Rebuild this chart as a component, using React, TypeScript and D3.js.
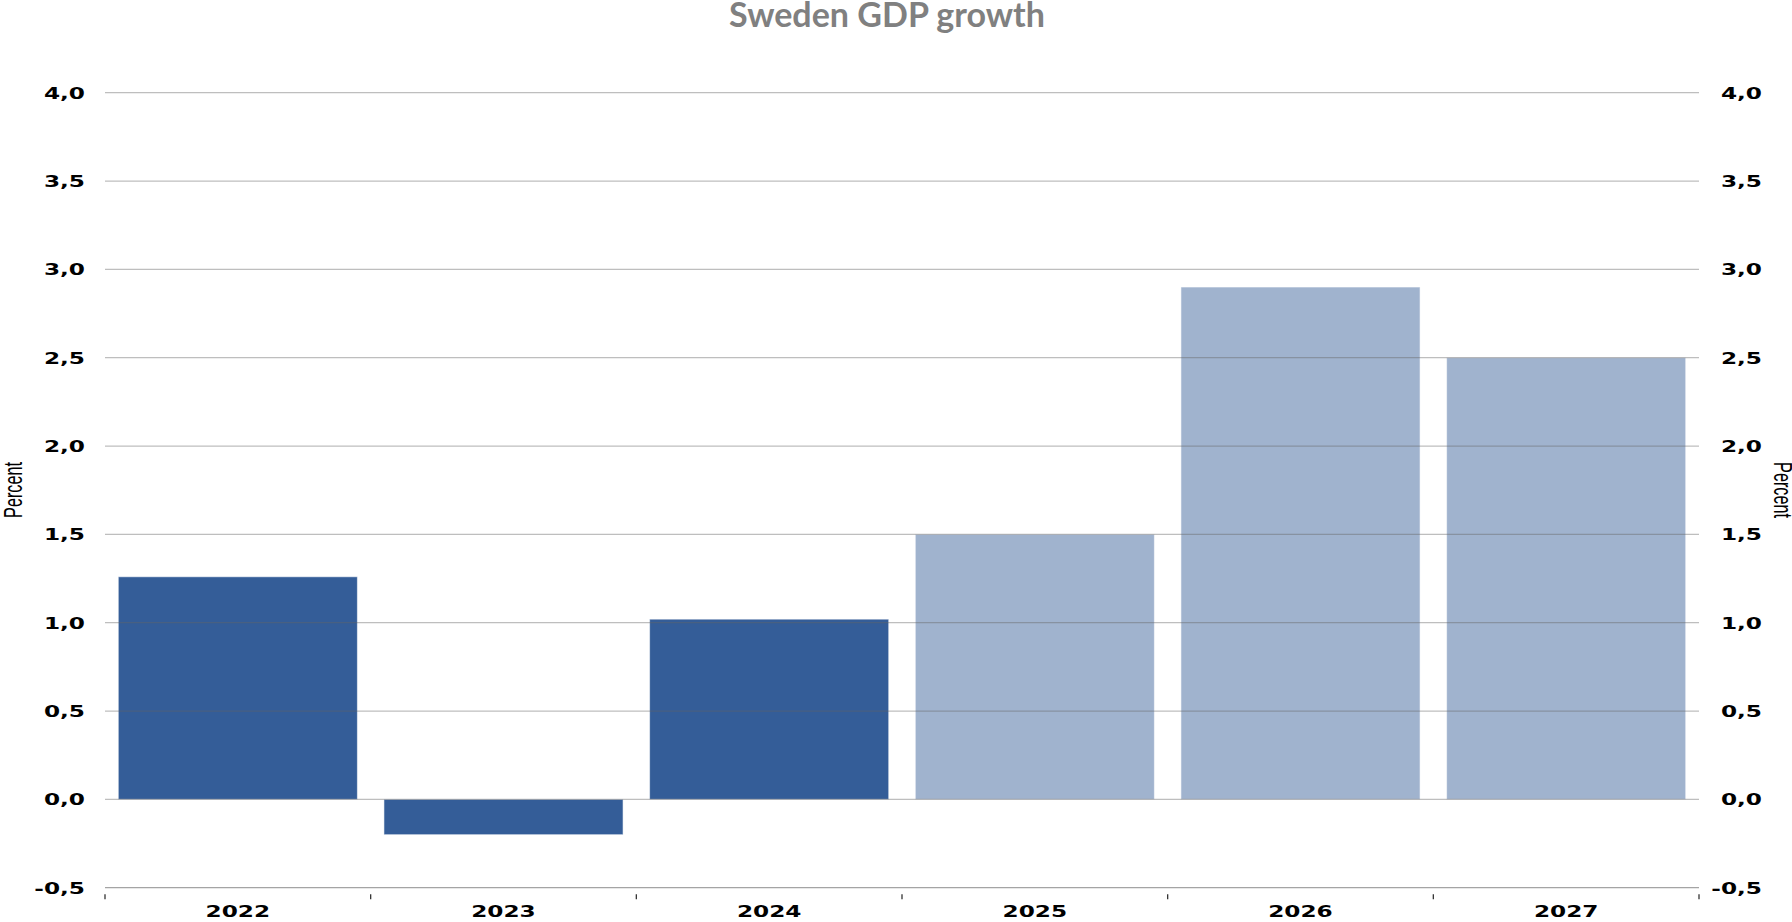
import React from 'react';
import * as d3 from 'd3';

const years = ['2022', '2023', '2024', '2025', '2026', '2027'];
const growth = [1.26, -0.2, 1.02, 1.5, 2.9, 2.5];
const forecast = [false, false, false, true, true, true];
const yTickValues = [-0.5, 0, 0.5, 1, 1.5, 2, 2.5, 3, 3.5, 4];
const title = 'Sweden GDP growth';
const axisTitle = 'Percent';

const W = 1792;
const H = 922;
const left = 105;
const right = 1699;
const top = 92.7;
const bottom = 887.7;

const fmt = (v: number) => v.toFixed(1).replace('.', ',');

export default function App() {
  const x = d3.scaleBand<string>().domain(years).range([left, right]).paddingInner(0.1).paddingOuter(0.05);
  const y = d3.scaleLinear().domain([-0.5, 4]).range([bottom, top]);
  const step = x.step();
  const boundaries = years.map((d) => (x(d) as number) - step * 0.05);
  boundaries.push((x(years[years.length - 1]) as number) + x.bandwidth() + step * 0.05);
  const sx = 1.45;
  const labelFont = { fontFamily: 'DejaVu Sans', fontWeight: 700, fontSize: 16, fill: '#000' } as const;

  return (
    <svg width={W} height={H} style={{ position: 'absolute', left: 0, top: 0, background: '#fff' }}>
      <text x={887} y={26.5} textAnchor="middle" fontFamily="Lato" fontWeight={700} fontSize={34} fill="#808080" textLength={316} lengthAdjust="spacingAndGlyphs">
        {title}
      </text>
      {years.map((d, i) => {
        const v = growth[i];
        const y0 = y(0);
        const y1 = y(v);
        return (
          <rect
            key={d}
            x={x(d)}
            y={Math.min(y0, y1)}
            width={x.bandwidth()}
            height={Math.abs(y1 - y0)}
            fill={forecast[i] ? '#a0b3ce' : '#345d98'}
            stroke="rgba(255,255,255,0.55)"
            strokeWidth={1}
          />
        );
      })}
      {yTickValues.map((v) => (
        <line key={'g' + v} x1={left} x2={right} y1={y(v)} y2={y(v)} stroke={v === -0.5 ? 'rgba(90,90,90,0.55)' : 'rgba(100,100,100,0.42)'} strokeWidth={1.3} />
      ))}
      {boundaries.map((bx, i) => (
        <line key={'t' + i} x1={bx} x2={bx} y1={bottom + 6.5} y2={bottom + 11.5} stroke="#333" strokeWidth={1.3} />
      ))}
      {yTickValues.map((v) => (
        <text key={'l' + v} transform={`translate(85,${y(v) + 6}) scale(${sx},1)`} textAnchor="end" {...labelFont}>
          {fmt(v)}
        </text>
      ))}
      {yTickValues.map((v) => (
        <text key={'r' + v} transform={`translate(1762,${y(v) + 6}) scale(${sx},1)`} textAnchor="end" {...labelFont}>
          {fmt(v)}
        </text>
      ))}
      {years.map((d) => (
        <text key={'x' + d} transform={`translate(${(x(d) as number) + x.bandwidth() / 2},916.5) scale(${sx},1)`} textAnchor="middle" {...labelFont}>
          {d}
        </text>
      ))}
      <text transform="translate(21.5,490) scale(1.6,1) rotate(-90)" textAnchor="middle" fontFamily="Liberation Sans" fontSize={16.2} fill="#000">
        {axisTitle}
      </text>
      <text transform="translate(1773.5,490) scale(1.6,1) rotate(90)" textAnchor="middle" fontFamily="Liberation Sans" fontSize={16.2} fill="#000">
        {axisTitle}
      </text>
    </svg>
  );
}
